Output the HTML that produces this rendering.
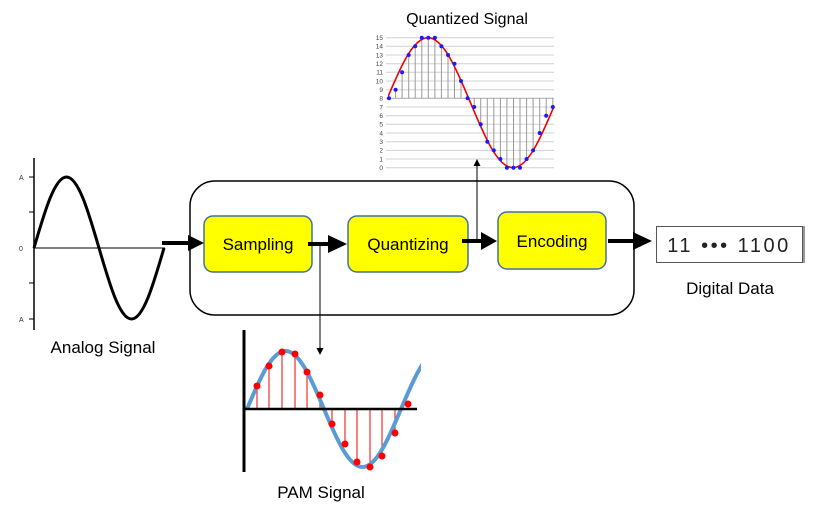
<!DOCTYPE html>
<html><head><meta charset="utf-8"><style>
html,body{margin:0;padding:0;background:#fff;width:815px;height:514px;overflow:hidden}
svg{display:block}
text{font-family:"Liberation Sans",sans-serif}
</style></head><body>
<svg width="815" height="514" viewBox="0 0 815 514" xmlns="http://www.w3.org/2000/svg">
<defs>
<clipPath id="cq"><rect x="388" y="20" width="166" height="160"/></clipPath>
<clipPath id="cp"><rect x="240" y="320" width="178" height="160"/></clipPath>
</defs>
<text x="467" y="24" font-size="16" text-anchor="middle">Quantized Signal</text>
<g stroke="#d0d0d0" stroke-width="1">
<line x1="386" y1="37.7" x2="554" y2="37.7"/><line x1="386" y1="46.3" x2="554" y2="46.3"/><line x1="386" y1="55" x2="554" y2="55"/><line x1="386" y1="63.7" x2="554" y2="63.7"/><line x1="386" y1="72.3" x2="554" y2="72.3"/><line x1="386" y1="81" x2="554" y2="81"/><line x1="386" y1="89.7" x2="554" y2="89.7"/><line x1="386" y1="107" x2="554" y2="107"/><line x1="386" y1="115.7" x2="554" y2="115.7"/><line x1="386" y1="124.3" x2="554" y2="124.3"/><line x1="386" y1="133" x2="554" y2="133"/><line x1="386" y1="141.7" x2="554" y2="141.7"/><line x1="386" y1="150.4" x2="554" y2="150.4"/><line x1="386" y1="159" x2="554" y2="159"/><line x1="386" y1="167.7" x2="554" y2="167.7"/>
</g>
<line x1="386" y1="98.3" x2="554" y2="98.3" stroke="#aaa"/>
<g stroke="#999" stroke-width="1">
<line x1="395.6" y1="98.3" x2="395.6" y2="89.7"/><line x1="402.1" y1="98.3" x2="402.1" y2="72.3"/><line x1="408.7" y1="98.3" x2="408.7" y2="55"/><line x1="415.2" y1="98.3" x2="415.2" y2="46.3"/><line x1="421.8" y1="98.3" x2="421.8" y2="37.7"/><line x1="428.3" y1="98.3" x2="428.3" y2="37.7"/><line x1="434.9" y1="98.3" x2="434.9" y2="37.7"/><line x1="441.4" y1="98.3" x2="441.4" y2="46.3"/><line x1="448" y1="98.3" x2="448" y2="55"/><line x1="454.5" y1="98.3" x2="454.5" y2="63.7"/><line x1="461" y1="98.3" x2="461" y2="81"/>
<line x1="474.2" y1="98.3" x2="474.2" y2="107"/><line x1="480.7" y1="98.3" x2="480.7" y2="124.3"/><line x1="487.3" y1="98.3" x2="487.3" y2="141.7"/><line x1="493.8" y1="98.3" x2="493.8" y2="150.4"/><line x1="500.4" y1="98.3" x2="500.4" y2="159"/><line x1="506.9" y1="98.3" x2="506.9" y2="167.7"/><line x1="513.5" y1="98.3" x2="513.5" y2="167.7"/><line x1="520" y1="98.3" x2="520" y2="167.7"/><line x1="526.6" y1="98.3" x2="526.6" y2="159"/><line x1="533.1" y1="98.3" x2="533.1" y2="150.4"/><line x1="539.7" y1="98.3" x2="539.7" y2="133"/><line x1="546.2" y1="98.3" x2="546.2" y2="115.7"/><line x1="552.8" y1="98.3" x2="552.8" y2="107"/>
</g>
<g font-size="6.5" fill="#444" text-anchor="end">
<text x="383" y="40">15</text><text x="383" y="48.6">14</text><text x="383" y="57.3">13</text><text x="383" y="66">12</text><text x="383" y="74.6">11</text><text x="383" y="83.3">10</text><text x="383" y="92">9</text><text x="383" y="100.6">8</text><text x="383" y="109.3">7</text><text x="383" y="118">6</text><text x="383" y="126.6">5</text><text x="383" y="135.3">4</text><text x="383" y="144">3</text><text x="383" y="152.7">2</text><text x="383" y="161.3">1</text><text x="383" y="170">0</text>
</g>
<path clip-path="url(#cq)" d="M385.5,102.7 C399.4,69.4 412.6,37.7 428,37.7 C443.4,37.7 456.6,69.4 470.5,102.7 C484.4,136 497.6,167.7 513,167.7 C528.4,167.7 541.6,136 555.5,102.7" fill="none" stroke="#e00" stroke-width="1.6"/>
<g fill="#1a1aff">
<circle cx="389" cy="98.3" r="2"/><circle cx="395.6" cy="89.7" r="2"/><circle cx="402.1" cy="72.3" r="2"/><circle cx="408.7" cy="55" r="2"/><circle cx="415.2" cy="46.3" r="2"/><circle cx="421.8" cy="37.7" r="2"/><circle cx="428.3" cy="37.7" r="2"/><circle cx="434.9" cy="37.7" r="2"/><circle cx="441.4" cy="46.3" r="2"/><circle cx="448" cy="55" r="2"/><circle cx="454.5" cy="63.7" r="2"/><circle cx="461" cy="81" r="2"/><circle cx="467.6" cy="98.3" r="2"/><circle cx="474.2" cy="107" r="2"/><circle cx="480.7" cy="124.3" r="2"/><circle cx="487.3" cy="141.7" r="2"/><circle cx="493.8" cy="150.4" r="2"/><circle cx="500.4" cy="159" r="2"/><circle cx="506.9" cy="167.7" r="2"/><circle cx="513.5" cy="167.7" r="2"/><circle cx="520" cy="167.7" r="2"/><circle cx="526.6" cy="159" r="2"/><circle cx="533.1" cy="150.4" r="2"/><circle cx="539.7" cy="133" r="2"/><circle cx="546.2" cy="115.7" r="2"/><circle cx="552.8" cy="107" r="2"/>
</g>

<!-- Analog -->
<line x1="34" y1="158" x2="34" y2="330" stroke="#000" stroke-width="1.5"/>
<line x1="34" y1="248" x2="165" y2="248" stroke="#000" stroke-width="1"/>
<g stroke="#000" stroke-width="1"><line x1="29" y1="177" x2="34" y2="177"/><line x1="29" y1="212" x2="34" y2="212"/><line x1="29" y1="283" x2="34" y2="283"/><line x1="29" y1="319" x2="34" y2="319"/></g>
<g font-size="7" fill="#333"><text x="19" y="180">A</text><text x="19" y="251">0</text><text x="19" y="322">A</text></g>
<path d="M34,248 C44.6,211.6 54.7,177 66.5,177 C78.3,177 88.4,211.6 99,248 C109.6,284.4 119.7,319 131.5,319 C143.3,319 153.4,284.4 164,248" fill="none" stroke="#000" stroke-width="3"/>
<text x="103" y="353" font-size="17" text-anchor="middle">Analog Signal</text>

<!-- main box -->
<rect x="190" y="181" width="444" height="134" rx="25" fill="none" stroke="#000" stroke-width="1.5"/>
<g fill="#ffff00" stroke="#41719c" stroke-width="1.5">
<rect x="204" y="216" width="108" height="56" rx="9"/>
<rect x="348" y="216" width="120" height="56" rx="9"/>
<rect x="498" y="212" width="108" height="57" rx="9"/>
</g>
<g font-size="17" text-anchor="middle">
<text x="258" y="250">Sampling</text><text x="408" y="250">Quantizing</text><text x="552" y="247">Encoding</text>
</g>
<!-- arrows -->
<g stroke="#000" stroke-width="4">
<line x1="162" y1="243" x2="192" y2="243"/><line x1="308" y1="244" x2="330" y2="244"/><line x1="462" y1="241" x2="483" y2="241"/><line x1="608" y1="241" x2="636" y2="241"/>
</g>
<g fill="#000">
<polygon points="188,235 204,243 188,251"/><polygon points="328,235 347,244 328,253"/><polygon points="481,232 497,241 481,250"/><polygon points="633,232 652,241 633,250"/>
</g>
<line x1="477" y1="240" x2="477" y2="165" stroke="#000" stroke-width="1"/>
<polygon points="473.5,166 477,159 480.5,166" fill="#000"/>
<line x1="320" y1="244" x2="320" y2="349" stroke="#000" stroke-width="1"/>
<polygon points="316.5,348 320,355 323.5,348" fill="#000"/>

<!-- digital -->
<rect x="656.5" y="226.5" width="146" height="36" fill="#fff" stroke="#555" stroke-width="1"/>
<line x1="804" y1="226" x2="804" y2="263" stroke="#777" stroke-width="1.5"/>
<text x="729" y="252" font-size="20" text-anchor="middle" fill="#222" letter-spacing="2.5">11 ••• 1100</text>
<text x="730" y="294" font-size="17" text-anchor="middle">Digital Data</text>

<!-- PAM -->
<line x1="244" y1="330" x2="244" y2="472" stroke="#000" stroke-width="3"/>
<g stroke="#f03030" stroke-width="1.2">
<line x1="257" y1="409" x2="257" y2="386"/><line x1="269" y1="409" x2="269" y2="366"/><line x1="282" y1="409" x2="282" y2="352"/><line x1="295" y1="409" x2="295" y2="354"/><line x1="307" y1="409" x2="307" y2="372"/><line x1="320" y1="409" x2="320" y2="395"/><line x1="332" y1="409" x2="332" y2="424"/><line x1="345" y1="409" x2="345" y2="444"/><line x1="357" y1="409" x2="357" y2="462"/><line x1="370" y1="409" x2="370" y2="467"/><line x1="382" y1="409" x2="382" y2="456"/><line x1="395" y1="409" x2="395" y2="433"/>
</g>
<path clip-path="url(#cp)" d="M244,409 C256.5,379.3 268.5,351 282.5,351 C296.5,351 308.5,379.3 321,409 C333.5,438.7 345.5,467 359.5,467 C373.5,467 385.5,438.7 398,409 C410.5,379.3 422.5,351 436.5,351" transform="translate(3,0)" fill="none" stroke="#5b9bd5" stroke-width="4"/>
<line x1="244" y1="409" x2="417" y2="409" stroke="#000" stroke-width="2.5"/>
<g fill="#ff0000">
<circle cx="257" cy="386" r="3.5"/><circle cx="269" cy="366" r="3.5"/><circle cx="282" cy="352" r="3.5"/><circle cx="295" cy="354" r="3.5"/><circle cx="307" cy="372" r="3.5"/><circle cx="320" cy="395" r="3.5"/><circle cx="332" cy="424" r="3.5"/><circle cx="345" cy="444" r="3.5"/><circle cx="357" cy="462" r="3.5"/><circle cx="370" cy="467" r="3.5"/><circle cx="382" cy="456" r="3.5"/><circle cx="395" cy="433" r="3.5"/><circle cx="408" cy="404" r="3.5"/>
</g>
<text x="321" y="498" font-size="17" text-anchor="middle">PAM Signal</text>
</svg>
</body></html>
